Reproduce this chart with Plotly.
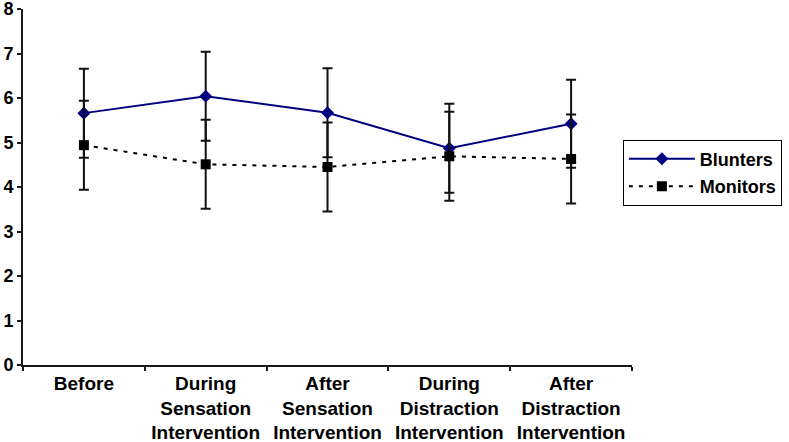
import plotly.graph_objects as go

categories = ["Before", "During Sensation Intervention", "After Sensation Intervention",
              "During Distraction Intervention", "After Distraction Intervention"]
tick_labels = ["Before", "During<br>Sensation<br>Intervention", "After<br>Sensation<br>Intervention",
               "During<br>Distraction<br>Intervention", "After<br>Distraction<br>Intervention"]
blunters = [5.66, 6.04, 5.67, 4.87, 5.42]
blunters_err = [1.00, 1.00, 1.00, 1.00, 0.99]
monitors = [4.94, 4.51, 4.45, 4.69, 4.63]
monitors_err = [1.00, 1.00, 1.00, 1.00, 1.00]
y_ticks = [0, 1, 2, 3, 4, 5, 6, 7, 8]

FONT = "Liberation Sans, Arial, sans-serif"

fig = go.Figure()
fig.add_trace(go.Scatter(
    x=categories, y=blunters, name="Blunters", mode="lines+markers",
    line=dict(color="#000080", width=2),
    marker=dict(symbol="diamond", size=10, color="#000080"),
    error_y=dict(type="data", array=blunters_err, color="#111111", thickness=2, width=5),
    legendgroup="b",
))
fig.add_trace(go.Scatter(
    x=categories, y=monitors, name="Monitors", mode="lines+markers",
    line=dict(color="#000000", width=2, dash="4px,6px"),
    marker=dict(symbol="square", size=10, color="#000000"),
    error_y=dict(type="data", array=monitors_err, color="#111111", thickness=2, width=5),
    legendgroup="m",
))

fig.update_layout(
    width=789, height=442,
    margin=dict(l=23, r=157, t=9, b=77, autoexpand=False),
    paper_bgcolor="white", plot_bgcolor="white",
    font=dict(family=FONT, color="black"),
    showlegend=True,
    legend=dict(
        x=0.985, xanchor="left", y=0.633, yanchor="top",
        bordercolor="black", borderwidth=1, bgcolor="white",
        font=dict(family=FONT, size=18, weight="bold", color="black"),
        traceorder="grouped", tracegroupgap=1, itemwidth=66,
    ),
    xaxis=dict(
        type="category", categoryorder="array", categoryarray=categories,
        tickvals=categories, ticktext=tick_labels,
        range=[-0.5, 4.5], tickson="boundaries", automargin=False,
        ticks="outside", ticklen=4, tickwidth=2, tickcolor="#1a1a1a",
        showline=True, linecolor="#1a1a1a", linewidth=2,
        showgrid=False, zeroline=False,
        tickfont=dict(family=FONT, size=19, weight="bold", color="black"),
    ),
    yaxis=dict(
        range=[0, 8], tickvals=y_ticks, automargin=False, ticklabeloverflow="allow",
        ticks="outside", ticklen=4, tickwidth=2, tickcolor="#1a1a1a",
        showline=True, linecolor="#1a1a1a", linewidth=2,
        showgrid=False, zeroline=False,
        tickfont=dict(family=FONT, size=18, weight="bold", color="black"),
    ),
)

fig.write_html("out.html", config={"displayModeBar": False},
               post_script="document.body.style.margin='0';document.body.style.padding='0';")
